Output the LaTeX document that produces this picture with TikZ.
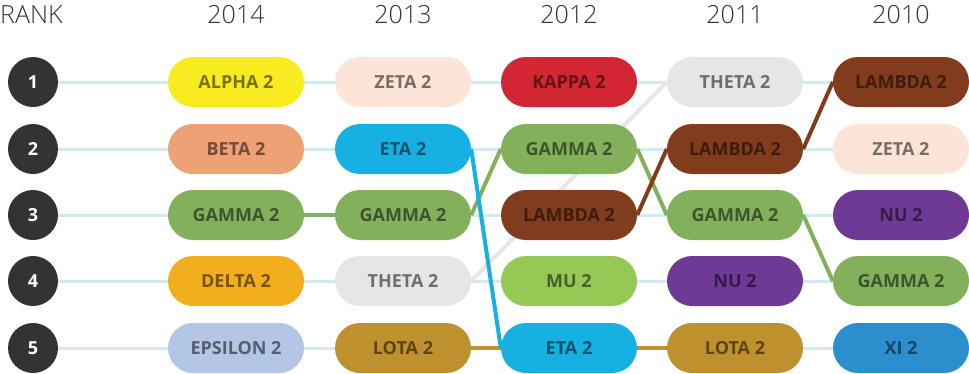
\documentclass[tikz,border=0pt]{standalone}
\usepackage{fontspec}
\setmainfont{Open Sans}
\newfontfamily\thinfont{Open Sans Light}
\usetikzlibrary{positioning}

\definecolor{rowline}{HTML}{CFEBF3}
\definecolor{rankbg}{HTML}{333333}
\definecolor{alpha}{HTML}{F8EC20}
\definecolor{beta}{HTML}{EDA174}
\definecolor{gamma}{HTML}{83B05B}
\definecolor{delta}{HTML}{F2AE1C}
\definecolor{epsilon}{HTML}{B4C6E6}
\definecolor{zeta}{HTML}{FCE4D6}
\definecolor{eta}{HTML}{17B0E2}
\definecolor{theta}{HTML}{E6E6E8}
\definecolor{lota}{HTML}{BF912E}
\definecolor{kappa}{HTML}{D22633}
\definecolor{mu}{HTML}{96C856}
\definecolor{lambda}{HTML}{803C1C}
\definecolor{nu}{HTML}{6F3996}
\definecolor{xi}{HTML}{2B8FCD}

\pgfdeclarelayer{bg}
\pgfsetlayers{bg,main}

\tikzset{
  pill/.style={rectangle, rounded corners=25pt, minimum width=136pt, minimum height=50pt,
    inner sep=0pt, fill=#1, text=#1!48!black, font=\fontsize{18}{18}\selectfont\bfseries},
  rankdot/.style={circle, fill=rankbg, minimum size=50pt, inner sep=0pt, text=white,
    font=\fontsize{18}{18}\selectfont\bfseries},
  yearlbl/.style={anchor=base, text=rankbg, font=\fontsize{25}{25}\selectfont\thinfont},
  rankrow/.style={draw=rowline, line width=3pt},
  move/.style={draw=#1, line width=4pt}
}

\begin{document}
\begin{tikzpicture}[x=1pt, y=-1pt]
\useasboundingbox (0,0) rectangle (969,373);

% headers
\node (RANK) at (0,23) [yearlbl, anchor=base west, inner sep=0pt]{RANK};
\node (H14) at (236,23) [yearlbl]{2014};
\node (H13) at (403,23) [yearlbl]{2013};
\node (H12) at (569,23) [yearlbl]{2012};
\node (H11) at (735,23) [yearlbl]{2011};
\node (H10) at (901,23) [yearlbl]{2010};

% rank circles
\node (R1) at (33,82) [rankdot]{1};
\node (R2) at (33,149) [rankdot]{2};
\node (R3) at (33,215) [rankdot]{3};
\node (R4) at (33,281) [rankdot]{4};
\node (R5) at (33,348) [rankdot]{5};

% 2014
\node (Y14-1) at (236,82) [pill=alpha]{ALPHA 2};
\node (Y14-2) at (236,149) [pill=beta]{BETA 2};
\node (Y14-3) at (236,215) [pill=gamma]{GAMMA 2};
\node (Y14-4) at (236,281) [pill=delta]{DELTA 2};
\node (Y14-5) at (236,348) [pill=epsilon]{EPSILON 2};

% 2013
\node (Y13-1) at (403,82) [pill=zeta]{ZETA 2};
\node (Y13-2) at (403,149) [pill=eta]{ETA 2};
\node (Y13-3) at (403,215) [pill=gamma]{GAMMA 2};
\node (Y13-4) at (403,281) [pill=theta]{THETA 2};
\node (Y13-5) at (403,348) [pill=lota]{LOTA 2};

% 2012
\node (Y12-1) at (569,82) [pill=kappa]{KAPPA 2};
\node (Y12-2) at (569,149) [pill=gamma]{GAMMA 2};
\node (Y12-3) at (569,215) [pill=lambda]{LAMBDA 2};
\node (Y12-4) at (569,281) [pill=mu]{MU 2};
\node (Y12-5) at (569,348) [pill=eta]{ETA 2};

% 2011
\node (Y11-1) at (735,82) [pill=theta]{THETA 2};
\node (Y11-2) at (735,149) [pill=lambda]{LAMBDA 2};
\node (Y11-3) at (735,215) [pill=gamma]{GAMMA 2};
\node (Y11-4) at (735,281) [pill=nu]{NU 2};
\node (Y11-5) at (735,348) [pill=lota]{LOTA 2};

% 2010
\node (Y10-1) at (901,82) [pill=lambda]{LAMBDA 2};
\node (Y10-2) at (901,149) [pill=zeta]{ZETA 2};
\node (Y10-3) at (901,215) [pill=nu]{NU 2};
\node (Y10-4) at (901,281) [pill=gamma]{GAMMA 2};
\node (Y10-5) at (901,348) [pill=xi]{XI 2};

\begin{pgfonlayer}{bg}
\path [rankrow] (R1) -- (Y10-1);
\path [rankrow] (R2) -- (Y10-2);
\path [rankrow] (R3) -- (Y10-3);
\path [rankrow] (R4) -- (Y10-4);
\path [rankrow] (R5) -- (Y10-5);

\path [move=theta] (Y13-4.east) -- (Y11-1.west);
\path [move=lota] (Y13-5.east) -- (Y11-5.west);
\path [move=gamma] (Y14-3.east) -- (Y13-3.west);
\path [move=gamma] (Y13-3.east) -- (Y12-2.west);
\path [move=gamma] (Y12-2.east) -- (Y11-3.west);
\path [move=gamma] (Y11-3.east) -- (Y10-4.west);
\path [move=eta] (Y13-2.east) -- (Y12-5.west);
\path [move=lambda] (Y12-3.east) -- (Y11-2.west);
\path [move=lambda] (Y11-2.east) -- (Y10-1.west);
\end{pgfonlayer}

\end{tikzpicture}
\end{document}
